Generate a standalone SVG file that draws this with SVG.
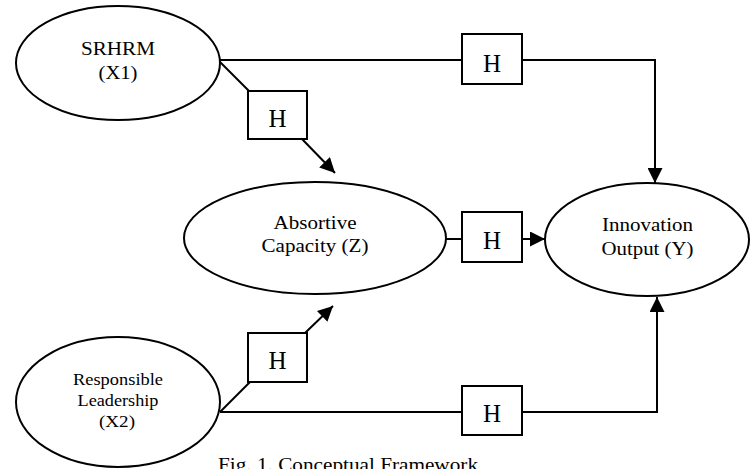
<svg xmlns="http://www.w3.org/2000/svg" width="752" height="469" viewBox="0 0 752 469">
<style>
.n{fill:#fff;stroke:#000;stroke-width:2}
.t{font-family:"Liberation Serif","Times New Roman",serif;fill:#000;text-anchor:middle}
.l{font-size:19px}
.s{font-size:16.5px}
.h{font-size:25px}
.c{fill:none;stroke:#000;stroke-width:2}
</style>
<defs>
<marker id="ah" markerUnits="userSpaceOnUse" markerWidth="15" markerHeight="15" refX="15" refY="7.5" orient="auto" viewBox="0 0 15 15">
<path d="M0,0 L15,7.5 L0,15 z" fill="#000"/>
</marker>
</defs>
<rect width="752" height="469" fill="#fff"/>
<g id="connectors">
<polyline class="c" points="220,60 462,60"/>
<polyline class="c" points="522,60 655,60 655,183" marker-end="url(#ah)"/>
<line class="c" x1="220" y1="62" x2="249" y2="91"/>
<line class="c" x1="302" y1="139" x2="335" y2="173" marker-end="url(#ah)"/>
<line class="c" x1="446" y1="239" x2="462" y2="239"/>
<line class="c" x1="522" y1="239" x2="545" y2="239" marker-end="url(#ah)"/>
<line class="c" x1="220" y1="412" x2="250" y2="382"/>
<line class="c" x1="305" y1="333" x2="333" y2="306" marker-end="url(#ah)"/>
<polyline class="c" points="220,412 462,412"/>
<polyline class="c" points="522,412 657,412 657,297" marker-end="url(#ah)"/>
</g>
<g id="srhrm">
<ellipse class="n" cx="118" cy="63" rx="102" ry="57"/>
<text class="t l" x="118" y="55" textLength="74" lengthAdjust="spacingAndGlyphs">SRHRM</text>
<text class="t l" x="118" y="79" textLength="39" lengthAdjust="spacingAndGlyphs">(X1)</text>
</g>
<g id="absorptive">
<ellipse class="n" cx="315" cy="238" rx="131" ry="56"/>
<text class="t l" x="315" y="229" textLength="83" lengthAdjust="spacingAndGlyphs">Absortive</text>
<text class="t l" x="315" y="252" textLength="107" lengthAdjust="spacingAndGlyphs">Capacity (Z)</text>
</g>
<g id="innovation">
<ellipse class="n" cx="647" cy="239.5" rx="102" ry="56.5"/>
<text class="t l" x="647.5" y="231" textLength="91" lengthAdjust="spacingAndGlyphs">Innovation</text>
<text class="t l" x="647.5" y="255" textLength="92" lengthAdjust="spacingAndGlyphs">Output (Y)</text>
</g>
<g id="leadership">
<ellipse class="n" cx="118" cy="402" rx="102" ry="65"/>
<text class="t s" x="118" y="385" textLength="90" lengthAdjust="spacingAndGlyphs">Responsible</text>
<text class="t s" x="118" y="406" textLength="81" lengthAdjust="spacingAndGlyphs">Leadership</text>
<text class="t s" x="117" y="427" textLength="36" lengthAdjust="spacingAndGlyphs">(X2)</text>
</g>
<g id="h1">
<rect class="n" x="462" y="34" width="60" height="50"/>
<text class="t h" x="492" y="72">H</text>
</g>
<g id="h2">
<rect class="n" x="248" y="91" width="59" height="48"/>
<text class="t h" x="277.5" y="127">H</text>
</g>
<g id="h3">
<rect class="n" x="462" y="212" width="60" height="50"/>
<text class="t h" x="492" y="249">H</text>
</g>
<g id="h4">
<rect class="n" x="248" y="333" width="59" height="49"/>
<text class="t h" x="277.5" y="369">H</text>
</g>
<g id="h5">
<rect class="n" x="462" y="386" width="60" height="49"/>
<text class="t h" x="492" y="422">H</text>
</g>
<text class="t" x="218" y="471" style="font-size:18px;text-anchor:start" textLength="260" lengthAdjust="spacingAndGlyphs">Fig. 1. Conceptual Framework</text>
</svg>
